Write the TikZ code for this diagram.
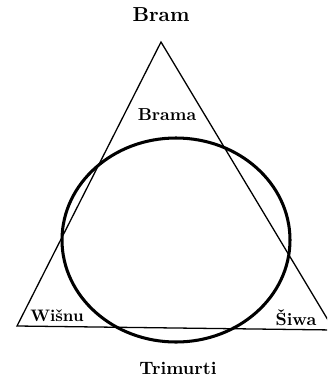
\documentclass[tikz,border=0pt]{standalone}
\usepackage{tikz}
\usetikzlibrary{shapes.geometric}

\begin{document}
\begin{tikzpicture}[
  x=0.03cm, y=-0.03cm,
  side/.style={line width=1.1pt},
  ring/.style={draw, ellipse, line width=2.6pt, minimum width=228*0.03cm, minimum height=204*0.03cm, inner sep=0pt},
  lbl/.style={font=\bfseries, inner sep=0pt}
]
\useasboundingbox (0,0) rectangle (327,382);
\clip (0,0) rectangle (327,382);
% triangle corners
\coordinate (apex) at (161,42);
\coordinate (left) at (17,326);
\coordinate (right) at (334,330);
\draw[side] (apex) -- (left) -- (right) -- cycle;
\node[ring] (ring) at (176,240) {};
\node[lbl, scale=1.73] (bram) at (161,15) {Bram};
\node[lbl, scale=1.48] (brama) at (167,115) {Brama};
\node[lbl, scale=1.42] (wisnu) at (57,316) {Wišnu};
\node[lbl, scale=1.5] (siwa) at (296,318) {Šiwa};
\node[lbl, scale=1.53] (trimurti) at (178,368) {Trimurti};
\end{tikzpicture}
\end{document}
